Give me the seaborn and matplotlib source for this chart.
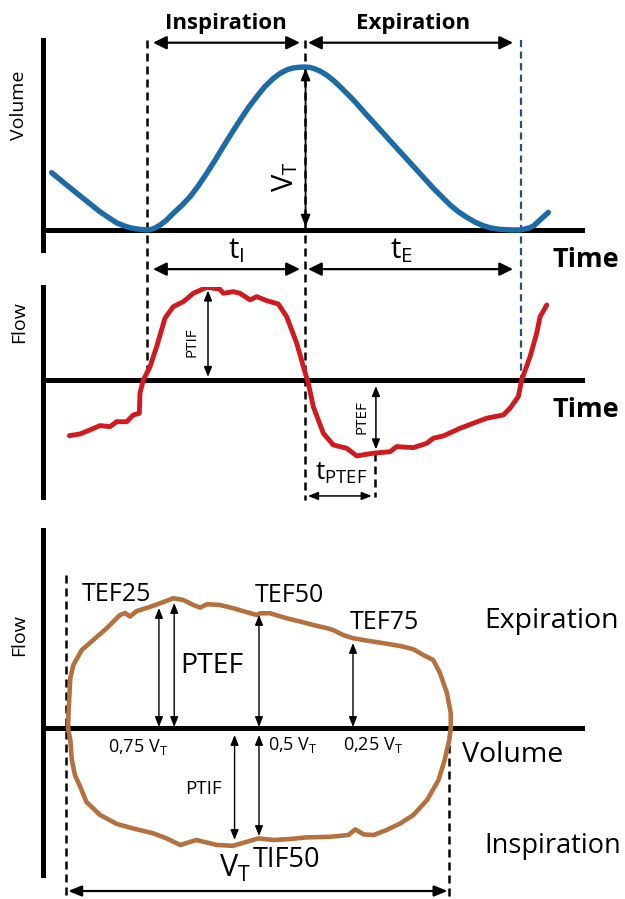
import numpy as np
import pandas as pd
import seaborn as sns
import matplotlib.pyplot as plt
from matplotlib.transforms import blended_transform_factory

sns.set_theme(style='white')
plt.rcParams['font.family'] = ['Open Sans', 'DejaVu Sans']
plt.rcParams['text.color'] = 'black'
plt.rcParams['mathtext.fontset'] = 'custom'
plt.rcParams['mathtext.rm'] = 'Open Sans'
plt.rcParams['mathtext.it'] = 'Open Sans:italic'
plt.rcParams['mathtext.bf'] = 'Open Sans:bold'

# ---------------- data ----------------
# breath timing (s)
t_insp_start = 0.0
t_insp_end = 1.5
t_exp_end = 3.56
t_ptef = 2.17
tidal_volume = 0.5

# volume-time curve
vol_time = [-0.908, -0.765, -0.607, -0.448, -0.360, -0.289, -0.220, -0.162,
            -0.110, -0.067, -0.030, 0.0, 0.040, 0.076, 0.124, 0.185, 0.250,
            0.330, 0.410, 0.490, 0.569, 0.650, 0.727, 0.806, 0.886, 0.965,
            1.045, 1.120, 1.203, 1.270, 1.330, 1.390, 1.441, 1.500, 1.545,
            1.584, 1.645, 1.711, 1.775, 1.838, 1.965, 2.092, 2.250, 2.410,
            2.569, 2.727, 2.886, 2.965, 3.045, 3.125, 3.203, 3.280, 3.362,
            3.430, 3.489, 3.540, 3.584, 3.635, 3.679, 3.743, 3.822]
vol = [0.176, 0.138, 0.097, 0.056, 0.037, 0.022, 0.013, 0.007,
       0.004, 0.002, 0.001, 0.0, 0.002, 0.006, 0.015, 0.030, 0.051,
       0.075, 0.102, 0.136, 0.174, 0.215, 0.256, 0.297, 0.337, 0.375,
       0.409, 0.439, 0.465, 0.481, 0.491, 0.497, 0.499, 0.500, 0.499,
       0.496, 0.488, 0.475, 0.459, 0.440, 0.399, 0.353, 0.297, 0.240,
       0.184, 0.128, 0.077, 0.056, 0.039, 0.024, 0.013, 0.006, 0.002,
       0.001, 0.0, 0.0, 0.002, 0.006, 0.012, 0.031, 0.054]

# flow-time curve
flow_time = [-0.740, -0.638, -0.543, -0.448, -0.352, -0.289, -0.193, -0.130,
             -0.073, -0.067, -0.035, 0.029, 0.092, 0.171, 0.250, 0.346, 0.441,
             0.569, 0.695, 0.727, 0.822, 0.886, 0.981, 1.045, 1.140, 1.250,
             1.330, 1.426, 1.489, 1.536, 1.584, 1.679, 1.774, 1.902, 1.997,
             2.155, 2.314, 2.378, 2.536, 2.664, 2.727, 2.822, 2.981, 3.108,
             3.235, 3.393, 3.457, 3.536, 3.568, 3.648, 3.711, 3.743, 3.807]
flow = [-0.368, -0.357, -0.330, -0.301, -0.308, -0.275, -0.275, -0.230,
        -0.219, -0.085, 0.003, 0.092, 0.225, 0.415, 0.492, 0.525, 0.581,
        0.621, 0.608, 0.581, 0.592, 0.581, 0.537, 0.559, 0.532, 0.510,
        0.425, 0.248, 0.092, -0.019, -0.175, -0.352, -0.430, -0.452, -0.503,
        -0.485, -0.475, -0.441, -0.448, -0.419, -0.385, -0.370, -0.319, -0.285,
        -0.252, -0.230, -0.185, -0.108, 0.003, 0.159, 0.315, 0.425, 0.503]

# flow-volume loop (expiratory limb, then inspiratory limb)
loop_exp_volume = [0.000, 0.001, 0.003, 0.007, 0.018, 0.033, 0.051, 0.068,
                   0.075, 0.081, 0.090, 0.107, 0.125, 0.138, 0.151, 0.164,
                   0.173, 0.182, 0.199, 0.216, 0.234, 0.247, 0.251, 0.264,
                   0.286, 0.304, 0.321, 0.339, 0.347, 0.360, 0.373, 0.391,
                   0.413, 0.435, 0.452, 0.465, 0.478, 0.487, 0.496, 0.501, 0.501]
loop_exp_flow = [0.000, 0.105, 0.250, 0.315, 0.390, 0.440, 0.500, 0.565,
                 0.575, 0.557, 0.585, 0.605, 0.630, 0.649, 0.640, 0.615,
                 0.602, 0.619, 0.615, 0.599, 0.579, 0.565, 0.573, 0.574,
                 0.549, 0.532, 0.515, 0.499, 0.490, 0.465, 0.449, 0.437,
                 0.424, 0.410, 0.394, 0.365, 0.340, 0.274, 0.174, 0.074, 0.000]
loop_insp_volume = [0.499, 0.493, 0.485, 0.470, 0.452, 0.435, 0.417, 0.400,
                    0.387, 0.376, 0.367, 0.343, 0.312, 0.291, 0.269, 0.249,
                    0.234, 0.216, 0.195, 0.168, 0.147, 0.129, 0.112, 0.085,
                    0.064, 0.042, 0.024, 0.016, 0.009, 0.005, 0.003, 0.000]
loop_insp_flow = [-0.060, -0.160, -0.260, -0.360, -0.435, -0.477, -0.510, -0.535,
                  -0.532, -0.507, -0.535, -0.544, -0.547, -0.555, -0.560, -0.552,
                  -0.569, -0.589, -0.585, -0.560, -0.585, -0.552, -0.527, -0.502,
                  -0.480, -0.435, -0.369, -0.294, -0.235, -0.160, -0.060, 0.000]

# loop markers (volume exhaled) and flows
tef_points = [0.119, 0.25, 0.373]
tef_flows = [0.60, 0.565, 0.425]
ptef_point, ptef_flow = 0.139, 0.625
ptif_point, ptif_flow = 0.218, -0.56
tif50_point, tif50_flow = 0.25, -0.54

# ---------------- styling ----------------
BLUE = '#1c6aa6'
RED = '#d11a1f'
BROWN = '#b4703f'
W, H = 625, 899

fig = plt.figure(figsize=(W / 100, H / 100), dpi=100)


def px_box(l, t, r, b):
    return [l / W, 1 - b / H, (r - l) / W, (b - t) / H]


ax1 = fig.add_axes(px_box(42.5, 40, 585, 250))
ax2 = fig.add_axes(px_box(42.5, 287, 585, 497), sharex=ax1)
ax3 = fig.add_axes(px_box(42.5, 530, 585, 875))

for ax in (ax1, ax2, ax3):
    ax.set_facecolor('none')
    for s in ('top', 'right', 'bottom'):
        ax.spines[s].set_visible(False)
    ax.spines['left'].set_linewidth(3.6)
    ax.spines['left'].set_color('black')
    ax.tick_params(left=False, bottom=False, labelleft=False, labelbottom=False)
    ax.axhline(0, color='black', lw=3.6, zorder=1)

ax1.set_xlim(-0.995, 4.171)
ax1.set_ylim(-0.0613, 0.5828)
ax2.set_ylim(-0.777, 0.623)
ax3.set_xlim(-0.0334, 0.6767)
ax3.set_ylim(-0.735, 0.99)

# curves
sns.lineplot(x=vol_time, y=vol, ax=ax1, color=BLUE, lw=3.9, sort=False,
             estimator=None, errorbar=None, zorder=3)
sns.lineplot(x=flow_time, y=flow, ax=ax2, color=RED, lw=3.5, sort=False,
             estimator=None, errorbar=None, zorder=3)
sns.lineplot(x=loop_exp_volume + loop_insp_volume, y=loop_exp_flow + loop_insp_flow,
             ax=ax3, color=BROWN, lw=3.3, sort=False, estimator=None,
             errorbar=None, zorder=3)


def darrow(ax, p0, p1, lw=1.0, ms=12, hl=0.5, hw=0.2):
    ax.annotate('', xy=p1, xytext=p0, annotation_clip=False,
                arrowprops=dict(arrowstyle=f'<|-|>,head_length={hl},head_width={hw}',
                                lw=lw, color='black', mutation_scale=ms,
                                shrinkA=0, shrinkB=0))


DASH = (0, (3.2, 2.0))
# phase separators crossing the two time panels
tr = blended_transform_factory(ax1.transData, fig.transFigure)
fy = lambda p: 1 - p / H
ax1.plot([t_insp_start] * 2, [fy(40), fy(380)], transform=tr, clip_on=False,
         color='black', lw=1.8, ls=DASH, zorder=2)
ax1.plot([t_insp_end] * 2, [fy(40), fy(500)], transform=tr, clip_on=False,
         color='black', lw=1.8, ls=DASH, zorder=2)
ax1.plot([t_exp_end] * 2, [fy(40), fy(378)], transform=tr, clip_on=False,
         color='#24507a', lw=1.6, ls=DASH, zorder=2)

# ---- panel 1 annotations
ax1.text((t_insp_start + t_insp_end) / 2, 0.618, 'Inspiration', ha='center',
         va='baseline', fontsize=16, fontweight='bold')
ax1.text((t_insp_end + t_exp_end) / 2, 0.618, 'Expiration', ha='center',
         va='baseline', fontsize=16, fontweight='bold')
darrow(ax1, (t_insp_start + 0.057, 0.5745), (t_insp_end - 0.043, 0.5745), lw=1.6, ms=18, hl=0.45, hw=0.22)
darrow(ax1, (t_insp_end + 0.033, 0.5745), (t_exp_end - 0.074, 0.5745), lw=1.6, ms=18, hl=0.45, hw=0.22)
darrow(ax1, (t_insp_start + 0.057, -0.12), (t_insp_end - 0.043, -0.12), lw=1.6, ms=18, hl=0.45, hw=0.22)
darrow(ax1, (t_insp_end + 0.033, -0.12), (t_exp_end - 0.074, -0.12), lw=1.6, ms=18, hl=0.45, hw=0.22)
darrow(ax1, (t_insp_end + 0.01, 0.01), (t_insp_end + 0.01, 0.496), lw=1.3, ms=14, hl=0.5, hw=0.2)
ax1.text(1.314, 0.164, r'$\mathrm{V}_\mathrm{T}$', rotation=90, ha='center',
         va='center', fontsize=21)
ax1.text(0.848, -0.086, r'$\mathrm{t}_\mathrm{I}$', ha='center', va='baseline', fontsize=21)
ax1.text(2.424, -0.086, r'$\mathrm{t}_\mathrm{E}$', ha='center', va='baseline', fontsize=21)
ax1.text(3.86, -0.112, 'Time', ha='left', va='baseline', fontsize=19.5, fontweight='bold')

# ---- panel 2 annotations
darrow(ax2, (0.581, 0.023), (0.581, 0.60), lw=1.1, ms=12)
ax2.text(0.43, 0.257, 'PTIF', rotation=90, ha='center', va='center', fontsize=11)
darrow(ax2, (2.18, -0.037), (2.18, -0.46), lw=1.1, ms=12)
ax2.text(2.05, -0.243, 'PTEF', rotation=90, ha='center', va='center', fontsize=11)
ax2.plot([t_ptef, t_ptef], [-0.485, -0.78], color='black', lw=1.8, ls=DASH, clip_on=False)
darrow(ax2, (t_insp_end + 0.033, -0.77), (t_ptef - 0.03, -0.77), lw=1.1, ms=12)
ax2.text(1.6, -0.663, r'$\mathrm{t}_\mathrm{PTEF}$', ha='left', va='baseline', fontsize=19)
ax2.text(3.86, -0.243, 'Time', ha='left', va='baseline', fontsize=19.5, fontweight='bold')

# ---- panel 3 annotations
ax3.plot([-0.0026, -0.0026], [0.765, -0.86], color='black', lw=1.8, ls=DASH, clip_on=False)
ax3.plot([0.4987, 0.4987], [-0.085, -0.86], color='black', lw=1.8, ls=DASH, clip_on=False)
darrow(ax3, (0.0, -0.815), (tidal_volume - 0.003, -0.815), lw=1.6, ms=16, hl=0.5, hw=0.2)
for v, f in zip(tef_points, tef_flows):
    darrow(ax3, (v, 0.005), (v, f), lw=1.0, ms=12)
darrow(ax3, (ptef_point, 0.005), (ptef_point, ptef_flow), lw=1.0, ms=12)
darrow(ax3, (ptif_point, -0.035), (ptif_point, ptif_flow), lw=1.0, ms=12)
darrow(ax3, (tif50_point, -0.035), (tif50_point, tif50_flow), lw=1.0, ms=12)

ax3.text(0.018, 0.635, 'TEF25', ha='left', va='baseline', fontsize=18)
ax3.text(0.245, 0.63, 'TEF50', ha='left', va='baseline', fontsize=18)
ax3.text(0.369, 0.495, 'TEF75', ha='left', va='baseline', fontsize=18)
ax3.text(0.147, 0.275, 'PTEF', ha='left', va='baseline', fontsize=20.5)
ax3.text(0.052, -0.12, r'0,75 $\mathrm{V}_\mathrm{T}$', ha='left', va='baseline', fontsize=13)
ax3.text(0.262, -0.11, r'0,5 $\mathrm{V}_\mathrm{T}$', ha='left', va='baseline', fontsize=13)
ax3.text(0.36, -0.11, r'0,25 $\mathrm{V}_\mathrm{T}$', ha='left', va='baseline', fontsize=13)
ax3.text(0.153, -0.33, 'PTIF', ha='left', va='baseline', fontsize=13.5)
ax3.text(0.242, -0.695, 'TIF50', ha='left', va='baseline', fontsize=19.5)
ax3.text(0.197, -0.745, r'$\mathrm{V}_\mathrm{T}$', ha='left', va='baseline', fontsize=22)
ax3.text(0.545, 0.5, 'Expiration', ha='left', va='baseline', fontsize=20.5)
ax3.text(0.545, -0.625, 'Inspiration', ha='left', va='baseline', fontsize=19.5)
ax3.text(0.516, -0.17, 'Volume', ha='left', va='baseline', fontsize=20.5)

# rotated axis titles
fig.text(19 / W, fy(105), 'Volume', rotation=90, ha='center', va='center', fontsize=14)
fig.text(19 / W, fy(322), 'Flow', rotation=90, ha='center', va='center', fontsize=14)
fig.text(19 / W, fy(635), 'Flow', rotation=90, ha='center', va='center', fontsize=14)

fig.savefig('out.png', dpi=100)
